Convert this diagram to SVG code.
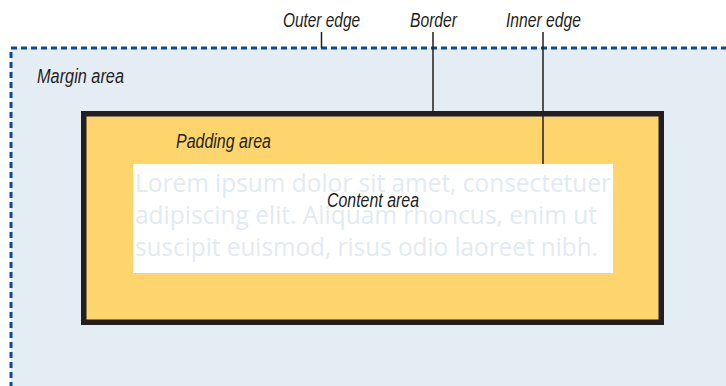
<svg xmlns="http://www.w3.org/2000/svg" width="726" height="386" viewBox="0 0 726 386">
<style>
.lbl{font-family:"Liberation Sans",Arial,sans-serif;font-style:italic;font-size:20.5px;fill:#231f20}
.lorem{font-family:"Open Sans","Noto Sans",sans-serif;font-size:25px;fill:#e2eaf4}
.conn{stroke:#231f20;stroke-width:1.5;fill:none}
</style>
<rect width="726" height="386" fill="#ffffff"/>
<g id="margin">
<rect x="11" y="48" width="740" height="360" fill="#e4ecf4" stroke="#0c4a97" stroke-width="3" stroke-dasharray="6 4"/>
<text class="lbl" x="37" y="83" textLength="87" lengthAdjust="spacingAndGlyphs">Margin area</text>
</g>
<g id="border-padding">
<rect x="83.75" y="113.75" width="577.5" height="208.5" fill="#fed46c" stroke="#231f20" stroke-width="5.5"/>
<text class="lbl" x="176" y="148" textLength="95" lengthAdjust="spacingAndGlyphs">Padding area</text>
</g>
<g id="content">
<rect x="133" y="164" width="480" height="109" fill="#ffffff"/>
<text class="lorem" x="135" y="192" textLength="476" lengthAdjust="spacingAndGlyphs">Lorem ipsum dolor sit amet, consectetuer</text>
<text class="lorem" x="135" y="224" textLength="462" lengthAdjust="spacingAndGlyphs">adipiscing elit. Aliquam rhoncus, enim ut</text>
<text class="lorem" x="135" y="256" textLength="463" lengthAdjust="spacingAndGlyphs">suscipit euismod, risus odio laoreet nibh.</text>
<text class="lbl" x="327" y="207" textLength="92" lengthAdjust="spacingAndGlyphs">Content area</text>
</g>
<g id="labels">
<text id="outer-edge" class="lbl" x="283" y="27" textLength="77" lengthAdjust="spacingAndGlyphs">Outer edge</text>
<text id="border-label" class="lbl" x="410" y="27" textLength="47" lengthAdjust="spacingAndGlyphs">Border</text>
<text id="inner-edge" class="lbl" x="506" y="27" textLength="75" lengthAdjust="spacingAndGlyphs">Inner edge</text>
</g>
<g id="connectors">
<line class="conn" x1="321.5" y1="32" x2="321.5" y2="48"/>
<line class="conn" x1="433" y1="32" x2="433" y2="112"/>
<line class="conn" x1="543" y1="32" x2="543" y2="164"/>
</g>
</svg>
